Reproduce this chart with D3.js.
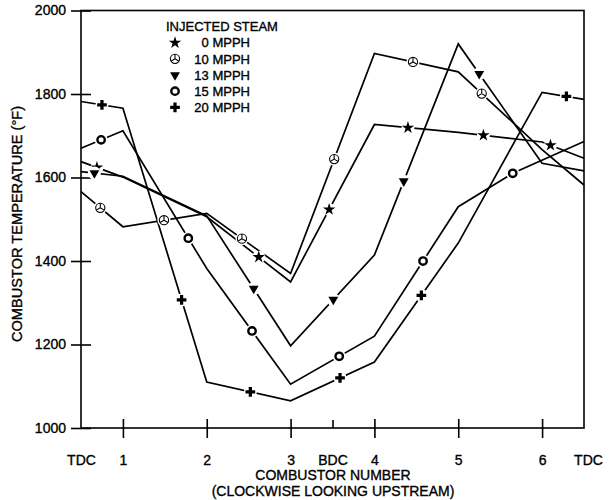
<!DOCTYPE html>
<html>
<head>
<meta charset="utf-8">
<script src="https://cdn.jsdelivr.net/npm/d3@7/dist/d3.min.js"></script>
<style>
  html, body { margin: 0; padding: 0; background: #fff; }
  svg { display: block; }
  text { font-family: "Liberation Sans", Arial, Helvetica, sans-serif; fill: #000; stroke: #000; stroke-width: 0.35px; }
</style>
</head>
<body>
<svg id="chart" width="609" height="500"></svg>
<script>
// Combustor positions around the ring (TDC at both ends, BDC between 3 and 4)
const xTickPositions = [0.5, 1, 2, 3, 3.5, 4, 5, 6, 6.5];
const xTickLabels = ["TDC", "1", "2", "3", "BDC", "4", "5", "6", "TDC"];
const yTickValues = [1000, 1200, 1400, 1600, 1800, 2000];

// Injected steam flow rates (legend)
const steamRates = ["0 MPPH", "10 MPPH", "13 MPPH", "15 MPPH", "20 MPPH"];
const markerShapes = ["star", "tri-circle", "down-triangle", "ring", "plus"];

// Polyline vertices (combustor position) and temperatures (°F)
const vertexPositions = [0.5, 1, 2, 3, 4, 5, 6, 6.5];
const vertexPositions15 = [0.5, 1, 2, 3, 4, 5, 5.65, 6.5];
const temps0 = [1638, 1601, 1506, 1350, 1727, 1708, 1685, 1646];
const temps10 = [1566, 1482, 1514, 1370, 1897, 1853, 1667, 1582];
const temps13 = [1614, 1603, 1508, 1197, 1414, 1920, 1634, 1616];
const temps15 = [1670, 1712, 1382, 1105, 1220, 1530, 1610, 1686];
const temps20 = [1782, 1766, 1110, 1065, 1158, 1443, 1804, 1787];

// Where each series' probe symbols sit along its line
const markers0 = [0.69, 2.62, 3.46, 4.40, 5.30, 6.10];
const markers10 = [0.73, 1.49, 2.42, 3.52, 4.46, 5.28];
const markers13 = [0.66, 2.56, 3.51, 4.35, 5.25];
const markers15 = [0.74, 1.78, 2.54, 3.58, 4.58, 5.65];
const markers20 = [0.75, 1.70, 2.52, 3.59, 4.56, 6.29];

const series = [
  { pos: vertexPositions, temps: temps0, marks: markers0, shape: markerShapes[0] },
  { pos: vertexPositions, temps: temps10, marks: markers10, shape: markerShapes[1] },
  { pos: vertexPositions, temps: temps13, marks: markers13, shape: markerShapes[2] },
  { pos: vertexPositions15, temps: temps15, marks: markers15, shape: markerShapes[3] },
  { pos: vertexPositions, temps: temps20, marks: markers20, shape: markerShapes[4] }
];

const svg = d3.select("#chart");
const plotLeft = 81, plotRight = 584, plotTop = 10.5, plotBottom = 428;

const x = d3.scaleLinear().domain([0.5, 6.5]).range([plotLeft, plotRight]);
const y = d3.scaleLinear().domain([1000, 2000]).range([plotBottom, plotTop]);

// Frame
svg.append("rect")
  .attr("x", plotLeft).attr("y", plotTop)
  .attr("width", plotRight - plotLeft).attr("height", plotBottom - plotTop)
  .attr("fill", "none").attr("stroke", "#000").attr("stroke-width", 1.6);

// Y axis: ticks cross the left frame line
const yAxis = svg.append("g")
  .attr("transform", `translate(${plotLeft},0)`)
  .call(d3.axisLeft(y).tickValues(yTickValues).tickSize(10).tickPadding(5).tickFormat(d3.format("d")));
yAxis.select(".domain").remove();
yAxis.selectAll(".tick line").attr("x1", 10).attr("x2", -10).attr("stroke", "#000").attr("stroke-width", 1.6);
yAxis.selectAll(".tick text").attr("font-size", 14).attr("font-family", null);

// X axis
const xAxis = svg.append("g")
  .attr("transform", `translate(0,${plotBottom})`)
  .call(d3.axisBottom(x).tickValues(xTickPositions).tickSize(10).tickPadding(17)
    .tickFormat((d, i) => xTickLabels[i]));
xAxis.select(".domain").remove();
xAxis.selectAll(".tick line")
  .attr("stroke", "#000").attr("stroke-width", 1.6)
  .attr("y1", (d, i) => xTickLabels[i] === "TDC" ? 0 : (xTickLabels[i] === "BDC" ? -8 : -9))
  .attr("y2", (d, i) => xTickLabels[i] === "TDC" || xTickLabels[i] === "BDC" ? 0 : 10);
xAxis.selectAll(".tick text").attr("font-size", 14).attr("font-family", null)
  .attr("dx", (d, i) => i === xTickLabels.length - 1 ? 4 : 0);

// Axis titles
svg.append("text")
  .attr("x", 333).attr("y", 480)
  .attr("text-anchor", "middle").attr("font-size", 14)
  .text("COMBUSTOR NUMBER");
svg.append("text")
  .attr("x", 333).attr("y", 496)
  .attr("text-anchor", "middle").attr("font-size", 14)
  .text("(CLOCKWISE LOOKING UPSTREAM)");
svg.append("text")
  .attr("transform", "translate(22,224) rotate(-90)")
  .attr("text-anchor", "middle").attr("font-size", 14.6)
  .text("COMBUSTOR TEMPERATURE (°F)");

// Symbol drawing
function drawMarker(g, shape) {
  if (shape === "star") {
    g.append("path")
      .attr("d", d3.symbol().type(d3.symbolStar).size(48)())
      .attr("fill", "#000");
  } else if (shape === "tri-circle") {
    g.append("circle").attr("r", 4.6).attr("fill", "#fff").attr("stroke", "#000").attr("stroke-width", 1.1);
    [90, 210, 330].forEach(a => {
      const r = a * Math.PI / 180;
      g.append("line").attr("x1", 0).attr("y1", 0)
        .attr("x2", 4.6 * Math.cos(r)).attr("y2", -4.6 * Math.sin(r))
        .attr("stroke", "#000").attr("stroke-width", 1.1);
    });
  } else if (shape === "down-triangle") {
    g.append("path")
      .attr("d", d3.symbol().type(d3.symbolTriangle).size(42)())
      .attr("transform", "rotate(180)")
      .attr("fill", "#000");
  } else if (shape === "ring") {
    g.append("circle").attr("r", 3.7).attr("fill", "#fff").attr("stroke", "#000").attr("stroke-width", 2.4);
  } else if (shape === "plus") {
    g.append("path")
      .attr("d", d3.symbol().type(d3.symbolCross).size(52)())
      .attr("fill", "#000");
  }
}

// Series lines
const line = d3.line().x(d => x(d[0])).y(d => y(d[1]));
const plot = svg.append("g");
series.forEach(s => {
  const pts = s.pos.map((p, i) => [p, s.temps[i]]);
  plot.append("path").datum(pts)
    .attr("d", line)
    .attr("fill", "none").attr("stroke", "#000").attr("stroke-width", 1.7)
    .attr("stroke-linejoin", "miter");
});

// Markers sit on their own line, with a small gap cut around them
series.forEach(s => {
  const along = d3.scaleLinear().domain(s.pos).range(s.temps);
  s.marks.forEach(m => {
    const g = plot.append("g").attr("transform", `translate(${x(m)},${y(along(m))})`);
    g.append("circle").attr("r", 6.5).attr("fill", "#fff");
    drawMarker(g, s.shape);
  });
});

// Legend
const legend = svg.append("g");
legend.append("text").attr("x", 166).attr("y", 31).attr("font-size", 13).text("INJECTED STEAM");
steamRates.forEach((label, i) => {
  const cy = 42.7 + i * 16.15;
  const g = legend.append("g").attr("transform", `translate(175,${cy})`);
  drawMarker(g, markerShapes[i]);
  legend.append("text").attr("x", 250).attr("y", cy + 4.7)
    .attr("text-anchor", "end").attr("font-size", 13).text(label);
});
</script>
</body>
</html>
